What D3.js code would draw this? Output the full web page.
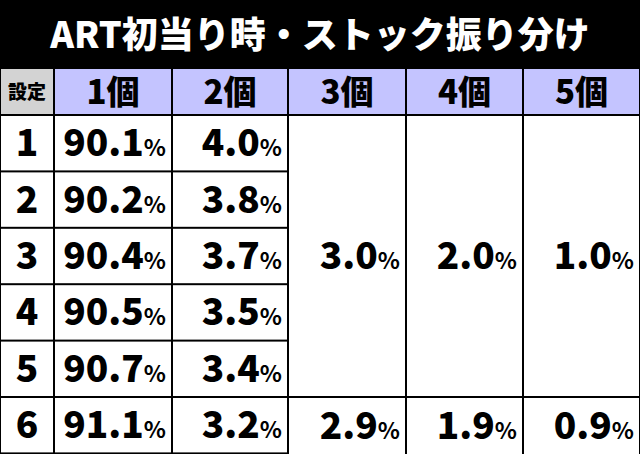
<!DOCTYPE html><html><head><meta charset="utf-8"><script src="https://cdn.jsdelivr.net/npm/d3@7"></script>
<style>body{margin:0;background:#000}</style></head><body><script>
const title="ART初当り時・ストック振り分け";
const headers=["設定","1個","2個","3個","4個","5個"];
const settings=["1","2","3","4","5","6"];
const one=[90.1,90.2,90.4,90.5,90.7,91.1];
const two=[4.0,3.8,3.7,3.5,3.4,3.2];
const three=[3.0,3.0,3.0,3.0,3.0,2.9];
const four=[2.0,2.0,2.0,2.0,2.0,1.9];
const five=[1.0,1.0,1.0,1.0,1.0,0.9];
const W=640,H=454,F="'Noto Sans CJK JP',sans-serif";
const svg=d3.select("body").append("svg").attr("width",W).attr("height",H);
svg.append("rect").attr("width",W).attr("height",H).attr("fill","#000");
svg.append("text").attr("x",320).attr("y",48).attr("text-anchor","middle").attr("fill","#fff")
 .attr("font-family",F).attr("font-weight",900).attr("font-size",36).text(title);
const xs=[0,54,172,288,406,523,640];
const tableTop=68,hh=47,rh=56.4;
const ry=i=>tableTop+hh+i*rh;
headers.forEach((h,i)=>{
 svg.append("rect").attr("x",xs[i]+1).attr("y",tableTop+1).attr("width",xs[i+1]-xs[i]-2).attr("height",hh-2).attr("fill",i?"#c4c4ff":"#d3d3d3");
 svg.append("text").attr("x",(xs[i]+xs[i+1])/2).attr("y",tableTop+hh/2+(i?12:7)).attr("text-anchor","middle")
  .attr("font-family",F).attr("font-weight",900).attr("font-size",i?33:19).text(h);
});
function cell(x0,x1,y0,y1,v){
 svg.append("rect").attr("x",x0+1).attr("y",y0+1).attr("width",x1-x0-2).attr("height",y1-y0-2).attr("fill","#fff");
 if(v==null)return;
 const t=svg.append("text").attr("x",x1-6).attr("y",(y0+y1)/2+13).attr("text-anchor","end")
  .attr("font-family",F).attr("font-weight",900);
 t.append("tspan").attr("font-size",37).text(v.toFixed(1));
 t.append("tspan").attr("font-size",23).attr("font-weight",700).text("%");
}
settings.forEach((s,i)=>{
 svg.append("rect").attr("x",1).attr("y",ry(i)+1).attr("width",52).attr("height",rh-2).attr("fill","#fff");
 svg.append("text").attr("x",27).attr("y",ry(i)+rh/2+13).attr("text-anchor","middle").attr("font-family",F).attr("font-weight",900).attr("font-size",37).text(s);
 cell(xs[1],xs[2],ry(i),ry(i+1),one[i]);
 cell(xs[2],xs[3],ry(i),ry(i+1),two[i]);
});
[three,four,five].forEach((arr,k)=>{
 cell(xs[3+k],xs[4+k],ry(0),ry(5),arr[0]);
 cell(xs[3+k],xs[4+k],ry(5),H+1,arr[5]);
});
</script></body></html>
